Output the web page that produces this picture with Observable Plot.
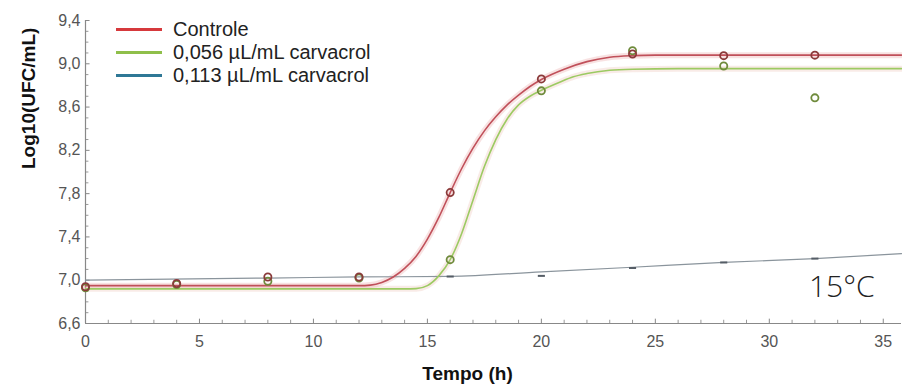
<!DOCTYPE html>
<html><head><meta charset="utf-8">
<script src="https://cdn.jsdelivr.net/npm/d3@7"></script>
<script src="https://cdn.jsdelivr.net/npm/@observablehq/plot@0.6"></script>
<style>
body{margin:0;background:#fff}
#wrap{position:relative;width:902px;height:389px}
.legend{position:absolute;left:116px;top:18px;font:20px 'Liberation Sans',Arial,sans-serif;color:#222}
.row{display:flex;align-items:center;height:23px;white-space:nowrap}
.sw{width:46px;height:3px;margin-right:11px}
</style></head>
<body><div id="wrap"></div>
<script>
// tick labels
const xTicks = [0, 5, 10, 15, 20, 25, 30, 35];
const yTicks = [6.6, 7.0, 7.4, 7.8, 8.2, 8.6, 9.0, 9.4];
const xMinor = [1,2,3,4,6,7,8,9,11,12,13,14,16,17,18,19,21,22,23,24,26,27,28,29,31,32,33,34];
const yMinor = [6.7,6.8,6.9,7.1,7.2,7.3,7.5,7.6,7.7,7.9,8.0,8.1,8.3,8.4,8.5,8.7,8.8,8.9,9.1,9.2,9.3];

// series names
const seriesNames = ["Controle", "0,056 µL/mL carvacrol", "0,113 µL/mL carvacrol"];

// observed points
const sampleHours = [0, 4, 8, 12, 16, 20, 24, 28, 32];
const controleObs = [6.94, 6.97, 7.03, 7.03, 7.81, 8.86, 9.09, 9.075, 9.08];
const carv056Obs  = [6.93, 6.96, 6.99, 7.02, 7.19, 8.75, 9.12, 8.98, 8.685];
const carv113Hours = [16, 20, 24, 28, 32];
const carv113Obs   = [7.034, 7.04, 7.113, 7.164, 7.2];

// fitted curves
const controleFitX = [0, 4, 8, 12, 12.5, 13, 13.5, 14, 14.5, 15, 15.5, 16, 16.5, 17, 17.5, 18, 18.5, 19, 19.5, 20, 21, 22, 23, 24, 25, 30, 35.8];
const controleFitY = [6.95, 6.95, 6.95, 6.95, 6.955, 6.98, 7.03, 7.11, 7.22, 7.38, 7.58, 7.81, 8.03, 8.22, 8.38, 8.51, 8.62, 8.71, 8.79, 8.855, 8.95, 9.02, 9.06, 9.075, 9.08, 9.08, 9.08];
const carv056FitX = [0, 4, 8, 12, 14, 14.5, 15, 15.5, 16, 16.5, 17, 17.5, 18, 18.5, 19, 19.5, 20, 20.8, 21.4, 22, 23, 24, 26, 30, 35.8];
const carv056FitY = [6.92, 6.92, 6.92, 6.92, 6.92, 6.922, 6.95, 7.04, 7.19, 7.43, 7.74, 8.05, 8.3, 8.49, 8.62, 8.70, 8.755, 8.83, 8.88, 8.91, 8.94, 8.95, 8.955, 8.955, 8.955];
const carv113FitX = [0, 8, 12, 16, 20, 24, 28, 32, 35.8];
const carv113FitY = [7.0, 7.02, 7.03, 7.035, 7.077, 7.12, 7.164, 7.2, 7.245];

const colors = ["#d6393c", "#8fbf4a", "#2f7896"];
const curveColors = ["#c0505a", "#9cca62", "#8a949c"];
const dotColors = ["#8a3a3a", "#6f8b3c", "#555d66"];

const zip = (xs, ys) => xs.map((x, i) => ({x, y: ys[i]}));
const dash = {draw(ctx, size) { const w = Math.sqrt(size) / 2; ctx.moveTo(-w, 0); ctx.lineTo(w, 0); }};

const chart = Plot.plot({
  width: 902, height: 389,
  marginLeft: 85, marginRight: 1, marginTop: 20, marginBottom: 66,
  x: {domain: [0, 35.8], label: null},
  y: {domain: [6.6, 9.4], label: null},
  style: {fontFamily: "'Liberation Sans', Arial, sans-serif", background: "#fff"},
  marks: [
    Plot.ruleX(xMinor, {x: d => d, y1: 6.6, y2: 6.63, stroke: "#999"}),
    Plot.ruleY(yMinor, {y: d => d, x1: 0, x2: 0.15, stroke: "#999"}),
    Plot.ruleX(xTicks, {x: d => d, y1: 6.6, y2: 6.64, stroke: "#888"}),
    Plot.ruleY(yTicks, {y: d => d, x1: 0, x2: 0.2, stroke: "#888"}),
    Plot.ruleX([0], {stroke: "#888", strokeWidth: 1.2}),
    Plot.ruleY([6.6], {stroke: "#888", strokeWidth: 1.2}),
    Plot.axisX(xTicks, {tickSize: 0, tickPadding: 12, fontSize: 16, color: "#555"}),
    Plot.axisY(yTicks, {tickSize: 0, tickPadding: 5, fontSize: 16, color: "#555",
      tickFormat: d => d.toFixed(1).replace(".", ",")}),
    // halos
    Plot.line(zip(controleFitX, controleFitY), {x: "x", y: "y", curve: "monotone-x", stroke: "#e8a0a0", strokeWidth: 6, strokeOpacity: 0.3}),
    Plot.line(zip(carv056FitX, carv056FitY), {x: "x", y: "y", curve: "monotone-x", stroke: "#e8b0a0", strokeWidth: 6, strokeOpacity: 0.25}),
    // fits
    Plot.line(zip(carv113FitX, carv113FitY), {x: "x", y: "y", curve: "monotone-x", stroke: curveColors[2], strokeWidth: 1.2}),
    Plot.line(zip(carv056FitX, carv056FitY), {x: "x", y: "y", curve: "monotone-x", stroke: curveColors[1], strokeWidth: 1.6}),
    Plot.line(zip(controleFitX, controleFitY), {x: "x", y: "y", curve: "monotone-x", stroke: curveColors[0], strokeWidth: 1.6}),
    // observations
    Plot.dot(zip(carv113Hours, carv113Obs), {x: "x", y: "y", r: 4, symbol: dash, stroke: dotColors[2], strokeWidth: 2}),
    Plot.dot(zip(sampleHours, carv056Obs), {x: "x", y: "y", r: 3.6, stroke: dotColors[1], strokeWidth: 1.8, fill: "none"}),
    Plot.dot(zip(sampleHours, controleObs), {x: "x", y: "y", r: 3.6, stroke: dotColors[0], strokeWidth: 1.8, fill: "none"}),
    // titles
    Plot.text(["15°C"], {x: 33.18, y: 6.937, text: d => d, fontSize: 30, fill: "#222",
      fontFamily: "'Open Sans', sans-serif", fontWeight: 300}),
    Plot.text(["Tempo (h)"], {frameAnchor: "bottom", dx: -26, dy: 43, text: d => d, fontSize: 19, fontWeight: "bold", fill: "#111", lineAnchor: "top"}),
    Plot.text(["Log10(UFC/mL)"], {frameAnchor: "left", dx: -57, dy: -3, rotate: -90, text: d => d, fontSize: 19, fontWeight: "bold", fill: "#111"})
  ]
});

const wrap = document.getElementById("wrap");
wrap.appendChild(chart);
const legend = document.createElement("div");
legend.className = "legend";
seriesNames.forEach((name, i) => {
  const row = document.createElement("div");
  row.className = "row";
  const sw = document.createElement("span");
  sw.className = "sw";
  sw.style.background = colors[i];
  const t = document.createElement("span");
  t.textContent = name;
  row.appendChild(sw); row.appendChild(t);
  legend.appendChild(row);
});
wrap.appendChild(legend);
</script>
</body></html>
